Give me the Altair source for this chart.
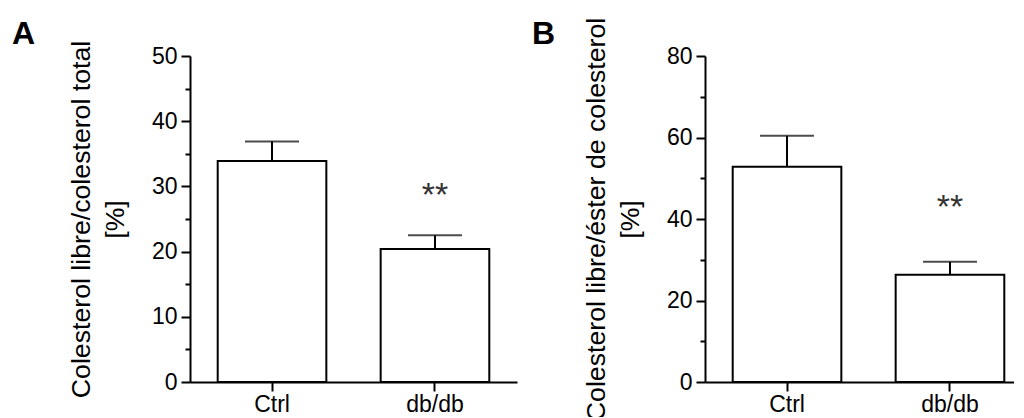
import altair as alt
import pandas as pd

groups = ["Ctrl", "db/db"]

a_mean = [33.9, 20.4]
a_err = [36.9, 22.5]
a_sig_group = ["db/db"]
a_sig_y = [29.4]
a_major = [0, 10, 20, 30, 40, 50]
a_minor = [5, 15, 25, 35, 45]
a_title = ["Colesterol libre/colesterol total", "[%]"]

b_mean = [52.8, 26.3]
b_err = [60.4, 29.5]
b_sig_group = ["db/db"]
b_sig_y = [44.2]
b_major = [0, 20, 40, 60, 80]
b_minor = [10, 30, 50, 70]
b_title = ["Colesterol libre/éster de colesterol", "[%]"]

FONT = "Liberation Sans"


def panel(mean, err, sig_group, sig_y, major, minor, title, letter, letter_dx):
    df = pd.DataFrame({"group": groups, "mean": mean, "err": err})
    sig = pd.DataFrame({"group": sig_group, "v": sig_y, "t": ["**"] * len(sig_y)})
    mn = pd.DataFrame({"v": minor})
    lt = pd.DataFrame({"t": [letter]})
    ymax = major[-1]
    yscale = alt.Scale(domain=[0, ymax], nice=False, zero=True)
    xs = alt.X(
        "group:N",
        sort=groups,
        scale=alt.Scale(paddingInner=1 / 3, paddingOuter=0.17),
        axis=alt.Axis(
            title=None, labelAngle=0, labelFontSize=23, labelFont=FONT,
            labelColor="black", tickSize=9, tickWidth=2, tickColor="black",
            domainColor="black", domainWidth=2, labelPadding=2,
        ),
    )
    bars = alt.Chart(df).mark_bar(fill="white", stroke="black", strokeWidth=2).encode(
        x=xs,
        y=alt.Y(
            "mean:Q", scale=yscale,
            axis=alt.Axis(
                values=major, title=title, orient="left", grid=False,
                labelFontSize=23, labelFont=FONT, labelColor="black",
                tickSize=9, tickWidth=2, tickColor="black",
                domainColor="black", domainWidth=2, labelPadding=4,
                titleFont=FONT, titleFontSize=26.7, titleFontWeight="normal",
                titleColor="black", titleLineHeight=34, titlePadding=22,
            ),
        ),
    )
    rule = alt.Chart(df).mark_rule(color="black", strokeWidth=2).encode(
        x=alt.X("group:N", sort=groups),
        y=alt.Y("mean:Q", axis=None),
        y2="err:Q",
    )
    cap = alt.Chart(df).mark_tick(color="black", size=54, thickness=2).encode(
        x=alt.X("group:N", sort=groups), y=alt.Y("err:Q", axis=None)
    )
    stars = alt.Chart(sig).mark_text(
        font=FONT, fontSize=34, color="#333333", baseline="alphabetic", dy=16
    ).encode(
        x=alt.X("group:N", sort=groups),
        y=alt.Y("v:Q", axis=None),
        text="t:N",
    )
    minor_axis = alt.Chart(mn).mark_point(opacity=0).encode(
        y=alt.Y(
            "v:Q", scale=yscale,
            axis=alt.Axis(
                values=minor, labels=False, domain=False, grid=False,
                tickSize=5, tickWidth=2, tickColor="black", title=None,
                orient="left",
            ),
        )
    )
    label = alt.Chart(lt).mark_text(
        font=FONT, fontSize=32, fontWeight="bold", color="black",
        align="left", baseline="alphabetic",
    ).encode(text="t:N", x=alt.value(letter_dx), y=alt.value(-12))
    return (
        alt.layer(bars, rule, cap, stars, minor_axis, label)
        .resolve_axis(y="independent")
        .properties(width=327, height=326)
    )


A = panel(a_mean, a_err, a_sig_group, a_sig_y, a_major, a_minor, a_title, "A", -178)
B = panel(b_mean, b_err, b_sig_group, b_sig_y, b_major, b_minor, b_title, "B", -173)

chart = (
    alt.hconcat(A, B, spacing=188, bounds="flush")
    .properties(padding={"left": 4, "top": 9, "right": -18, "bottom": -4}, background="white")
    .configure_view(stroke=None)
)

chart.save("out.html", embed_options={"renderer": "svg", "actions": False})
